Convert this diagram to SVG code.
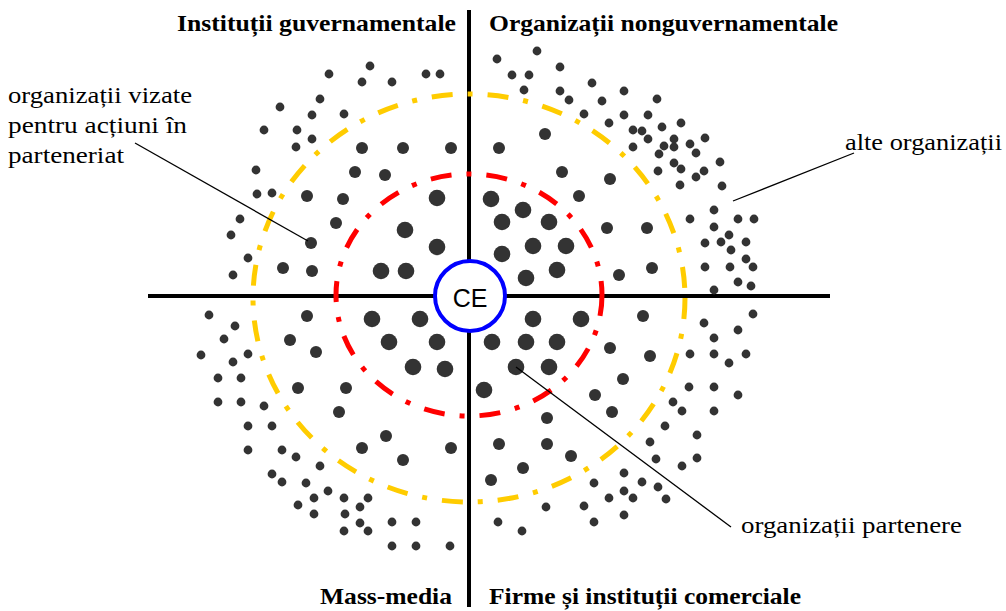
<svg xmlns="http://www.w3.org/2000/svg" xmlns:xlink="http://www.w3.org/1999/xlink" width="1006" height="611" viewBox="0 0 1006 611">
<style>
.axis{stroke:#000;stroke-width:4;fill:none}
.ring{fill:none;stroke-width:5;stroke-dasharray:21 15 5 15}
.lead{stroke:#000;stroke-width:1.3;fill:none}
.title{font-family:"Liberation Serif","DejaVu Serif",serif;font-weight:bold;font-size:23px;fill:#000}
.lab{font-family:"Liberation Serif","DejaVu Serif",serif;font-size:23px;fill:#000}
.dots use{fill:#333}
</style>
<defs>
<circle id="s" r="4.4"/>
<circle id="m" r="6"/>
<circle id="l" r="8.3"/>
</defs>
<rect width="1006" height="611" fill="#fff"/>
<g id="axes">
<line class="axis" x1="148" y1="296" x2="830" y2="296"/>
<line class="axis" x1="469" y1="10" x2="469" y2="607"/>
</g>
<g id="rings">
<ellipse class="ring" cx="469" cy="298" rx="216" ry="204" stroke="#FFCC00"/>
<ellipse class="ring" cx="469" cy="295" rx="133" ry="121" stroke="#FF0000"/>
</g>
<g id="dots-small" class="dots">
<use href="#s" x="329" y="74"/><use href="#s" x="370" y="66"/><use href="#s" x="362" y="82"/><use href="#s" x="392" y="82"/><use href="#s" x="426" y="74"/><use href="#s" x="440" y="74"/><use href="#s" x="280" y="107"/><use href="#s" x="320" y="99"/><use href="#s" x="312" y="115"/><use href="#s" x="344" y="114"/><use href="#s" x="264" y="130"/><use href="#s" x="297" y="130"/><use href="#s" x="312" y="139"/><use href="#s" x="296" y="147"/><use href="#s" x="256" y="170"/><use href="#s" x="257" y="194"/><use href="#s" x="272" y="193"/><use href="#s" x="240" y="219"/><use href="#s" x="231" y="235"/><use href="#s" x="248" y="258"/><use href="#s" x="233" y="275"/>
<use href="#s" x="497" y="59"/><use href="#s" x="537" y="51"/><use href="#s" x="512" y="75"/><use href="#s" x="529" y="75"/><use href="#s" x="560" y="67"/><use href="#s" x="524" y="90"/><use href="#s" x="560" y="91"/><use href="#s" x="569" y="100"/><use href="#s" x="592" y="83"/><use href="#s" x="602" y="101"/><use href="#s" x="624" y="91"/><use href="#s" x="657" y="99"/><use href="#s" x="584" y="114"/><use href="#s" x="609" y="123"/><use href="#s" x="624" y="115"/><use href="#s" x="648" y="115"/><use href="#s" x="681" y="123"/><use href="#s" x="633" y="130"/><use href="#s" x="642" y="131"/><use href="#s" x="662" y="127"/><use href="#s" x="648" y="139"/><use href="#s" x="674" y="139"/><use href="#s" x="705" y="138"/><use href="#s" x="633" y="147"/><use href="#s" x="664" y="146"/><use href="#s" x="674" y="147"/><use href="#s" x="690" y="144"/><use href="#s" x="659" y="154"/><use href="#s" x="696" y="153"/><use href="#s" x="674" y="163"/><use href="#s" x="720" y="162"/><use href="#s" x="658" y="171"/><use href="#s" x="681" y="169"/><use href="#s" x="696" y="177"/><use href="#s" x="704" y="171"/><use href="#s" x="680" y="185"/><use href="#s" x="722" y="186"/><use href="#s" x="690" y="219"/><use href="#s" x="714" y="210"/><use href="#s" x="714" y="227"/><use href="#s" x="738" y="219"/><use href="#s" x="754" y="219"/><use href="#s" x="729" y="235"/><use href="#s" x="705" y="243"/><use href="#s" x="721" y="242"/><use href="#s" x="746" y="242"/><use href="#s" x="731" y="250"/><use href="#s" x="746" y="259"/><use href="#s" x="705" y="267"/><use href="#s" x="730" y="267"/><use href="#s" x="753" y="267"/><use href="#s" x="738" y="282"/><use href="#s" x="751" y="286"/><use href="#s" x="714" y="290"/>
<use href="#s" x="209" y="315"/><use href="#s" x="235" y="326"/><use href="#s" x="224" y="339"/><use href="#s" x="201" y="355"/><use href="#s" x="248" y="354"/><use href="#s" x="233" y="362"/><use href="#s" x="218" y="378"/><use href="#s" x="241" y="378"/><use href="#s" x="218" y="402"/><use href="#s" x="241" y="402"/><use href="#s" x="264" y="406"/><use href="#s" x="248" y="426"/><use href="#s" x="272" y="426"/><use href="#s" x="248" y="450"/><use href="#s" x="282" y="450"/><use href="#s" x="296" y="457"/><use href="#s" x="320" y="466"/><use href="#s" x="272" y="474"/><use href="#s" x="282" y="482"/><use href="#s" x="306" y="483"/><use href="#s" x="328" y="491"/><use href="#s" x="314" y="498"/><use href="#s" x="344" y="498"/><use href="#s" x="368" y="498"/><use href="#s" x="298" y="505"/><use href="#s" x="360" y="507"/><use href="#s" x="314" y="514"/><use href="#s" x="345" y="514"/><use href="#s" x="360" y="523"/><use href="#s" x="392" y="522"/><use href="#s" x="416" y="522"/><use href="#s" x="344" y="531"/><use href="#s" x="368" y="531"/><use href="#s" x="392" y="546"/><use href="#s" x="416" y="546"/><use href="#s" x="450" y="546"/>
<use href="#s" x="704" y="323"/><use href="#s" x="738" y="330"/><use href="#s" x="753" y="314"/><use href="#s" x="714" y="338"/><use href="#s" x="690" y="354"/><use href="#s" x="714" y="354"/><use href="#s" x="729" y="363"/><use href="#s" x="746" y="354"/><use href="#s" x="689" y="387"/><use href="#s" x="714" y="387"/><use href="#s" x="738" y="395"/><use href="#s" x="673" y="402"/><use href="#s" x="682" y="411"/><use href="#s" x="714" y="411"/><use href="#s" x="665" y="426"/><use href="#s" x="697" y="435"/><use href="#s" x="650" y="442"/><use href="#s" x="656" y="459"/><use href="#s" x="682" y="466"/><use href="#s" x="697" y="458"/><use href="#s" x="624" y="473"/><use href="#s" x="594" y="483"/><use href="#s" x="642" y="482"/><use href="#s" x="658" y="487"/><use href="#s" x="624" y="491"/><use href="#s" x="609" y="498"/><use href="#s" x="633" y="498"/><use href="#s" x="666" y="499"/><use href="#s" x="546" y="507"/><use href="#s" x="584" y="506"/><use href="#s" x="624" y="515"/><use href="#s" x="594" y="522"/><use href="#s" x="498" y="522"/><use href="#s" x="522" y="531"/>
</g>
<g id="dots-medium" class="dots">
<use href="#m" x="362" y="148"/><use href="#m" x="403" y="148"/><use href="#m" x="451" y="148"/><use href="#m" x="355" y="172"/><use href="#m" x="385" y="175"/><use href="#m" x="307" y="196"/><use href="#m" x="343" y="199"/><use href="#m" x="336" y="223"/><use href="#m" x="311" y="243"/><use href="#m" x="283" y="268"/><use href="#m" x="312" y="271"/>
<use href="#m" x="545" y="134"/><use href="#m" x="499" y="148"/><use href="#m" x="562" y="172"/><use href="#m" x="610" y="179"/><use href="#m" x="579" y="196"/><use href="#m" x="607" y="228"/><use href="#m" x="647" y="228"/><use href="#m" x="619" y="275"/><use href="#m" x="652" y="268"/>
<use href="#m" x="307" y="316"/><use href="#m" x="290" y="340"/><use href="#m" x="316" y="352"/><use href="#m" x="298" y="388"/><use href="#m" x="346" y="388"/><use href="#m" x="339" y="412"/><use href="#m" x="386" y="436"/><use href="#m" x="362" y="448"/><use href="#m" x="403" y="460"/><use href="#m" x="451" y="448"/>
<use href="#m" x="643" y="316"/><use href="#m" x="610" y="348"/><use href="#m" x="650" y="356"/><use href="#m" x="623" y="379"/><use href="#m" x="595" y="395"/><use href="#m" x="612" y="412"/><use href="#m" x="547" y="418"/><use href="#m" x="499" y="444"/><use href="#m" x="547" y="444"/><use href="#m" x="571" y="456"/><use href="#m" x="523" y="468"/><use href="#m" x="491" y="480"/>
</g>
<g id="dots-large" class="dots">
<use href="#l" x="437" y="198"/><use href="#l" x="405" y="230"/><use href="#l" x="437" y="247"/><use href="#l" x="381" y="271"/><use href="#l" x="406" y="271"/>
<use href="#l" x="491" y="199"/><use href="#l" x="523" y="210"/><use href="#l" x="502" y="222"/><use href="#l" x="549" y="222"/><use href="#l" x="502" y="254"/><use href="#l" x="533" y="246"/><use href="#l" x="566" y="246"/><use href="#l" x="557" y="270"/><use href="#l" x="526" y="278"/>
<use href="#l" x="372" y="319"/><use href="#l" x="420" y="319"/><use href="#l" x="389" y="342"/><use href="#l" x="437" y="342"/><use href="#l" x="413" y="367"/><use href="#l" x="445" y="369"/>
<use href="#l" x="533" y="319"/><use href="#l" x="581" y="319"/><use href="#l" x="492" y="342"/><use href="#l" x="526" y="342"/><use href="#l" x="557" y="342"/><use href="#l" x="516" y="367"/><use href="#l" x="549" y="367"/><use href="#l" x="484" y="390"/>
</g>
<g id="node-CE">
<circle cx="470" cy="296" r="35" fill="#fff" stroke="#0000FF" stroke-width="4"/>
<text x="470" y="307" text-anchor="middle" font-family="Liberation Sans, Arial, sans-serif" font-size="25" fill="#000">CE</text>
</g>
<g id="connectors">
<line class="lead" x1="135" y1="143" x2="308" y2="241"/>
<line class="lead" x1="733" y1="201" x2="854" y2="153"/>
<line class="lead" x1="516" y1="367" x2="731" y2="527"/>
</g>
<g id="titles">
<text class="title" x="177" y="31" textLength="279" lengthAdjust="spacingAndGlyphs">Instituții guvernamentale</text>
<text class="title" x="489" y="31" textLength="349" lengthAdjust="spacingAndGlyphs">Organizații nonguvernamentale</text>
<text class="title" x="320" y="604" textLength="132" lengthAdjust="spacingAndGlyphs">Mass-media</text>
<text class="title" x="489" y="604" textLength="312" lengthAdjust="spacingAndGlyphs">Firme și instituții comerciale</text>
</g>
<g id="labels">
<text class="lab" x="8" y="103" textLength="184" lengthAdjust="spacingAndGlyphs">organizații vizate</text>
<text class="lab" x="8" y="133" textLength="179" lengthAdjust="spacingAndGlyphs">pentru acțiuni în</text>
<text class="lab" x="8" y="163" textLength="116" lengthAdjust="spacingAndGlyphs">parteneriat</text>
<text class="lab" x="845" y="150" textLength="157" lengthAdjust="spacingAndGlyphs">alte organizații</text>
<text class="lab" x="741" y="533" textLength="221" lengthAdjust="spacingAndGlyphs">organizații partenere</text>
</g>
</svg>
